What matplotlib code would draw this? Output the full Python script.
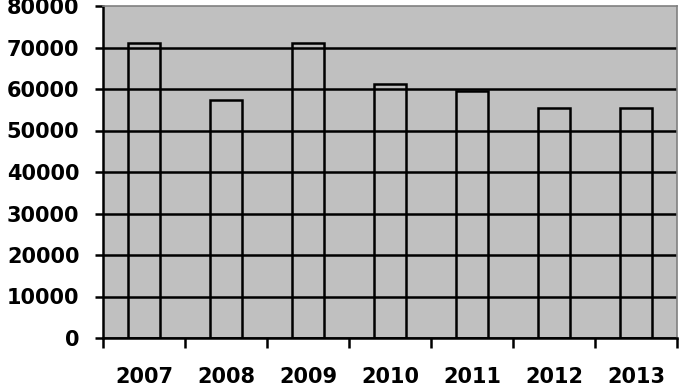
import numpy as np
import matplotlib
matplotlib.use("Agg")
import matplotlib.pyplot as plt

years = ["2007", "2008", "2009", "2010", "2011", "2012", "2013"]
values = [71200, 57400, 71200, 61200, 59400, 55400, 55400]
yticks = [0, 10000, 20000, 30000, 40000, 50000, 60000, 70000, 80000]

plt.rcParams['font.family'] = ['DejaVu Sans']

fig = plt.figure(figsize=(6.87, 3.90), dpi=100)
ax = fig.add_axes([103/687, 52/390, 574/687, 332/390])
ax.set_facecolor('#C0C0C0')

x = np.arange(len(years))
ax.bar(x, values, width=0.39, facecolor='none', edgecolor='black', linewidth=1.8, zorder=3)

ax.set_xlim(-0.5, len(years) - 0.5)
ax.set_ylim(0, 80000)
ax.set_yticks(yticks, labels=[str(v) for v in yticks])
ax.set_xticks(np.arange(len(years) + 1) - 0.5, labels=[])
ax.set_xticks(x, labels=years, minor=True)

ax.yaxis.grid(True, color='black', linewidth=1.8, zorder=1)
ax.set_axisbelow(True)
ax.get_ygridlines()[-1].set_visible(False)

for s in ['top', 'right']:
    ax.spines[s].set_color('#808080')
    ax.spines[s].set_linewidth(1.2)
for s in ['left', 'bottom']:
    ax.spines[s].set_color('black')
    ax.spines[s].set_linewidth(1.8)

ax.tick_params(axis='y', which='major', length=6, width=1.8, pad=11,
               labelsize=15)
ax.tick_params(axis='x', which='major', length=7, width=1.8)
ax.tick_params(axis='x', which='minor', length=0, pad=21, labelsize=15)
for lab in ax.get_yticklabels() + ax.get_xticklabels(minor=True):
    lab.set_fontweight('bold')

fig.savefig('out.png', dpi=100)
